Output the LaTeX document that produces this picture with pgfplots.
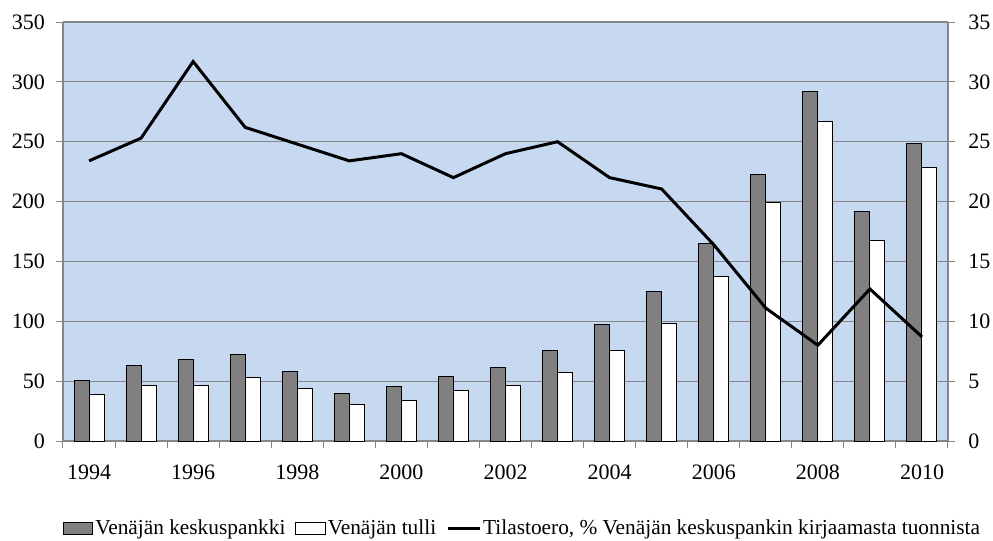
\documentclass[border=0pt]{standalone}
\usepackage{pgfplots}
\pgfplotsset{compat=1.18}
\usepackage{fontspec}
\setmainfont{Liberation Serif}
\definecolor{plotbg}{RGB}{198,217,241}
\definecolor{bardark}{RGB}{128,128,128}
\definecolor{gridc}{RGB}{134,134,134}
\begin{document}
\begin{tikzpicture}
\pgfplotsset{
  every axis/.append style={font=\fontsize{16.5}{19}\selectfont},
  /pgf/number format/assume math mode=true,
}
\begin{axis}[
  at={(0,0)}, anchor=south west, scale only axis,
  width=663.75pt, height=314.25pt,
  xmin=1993.5, xmax=2010.5, ymin=0, ymax=350,
  ytick={0,50,...,350},
  xtick={1993.5,1994.5,...,2010.5}, xticklabels={},
  extra x ticks={1994,1996,...,2010},
  extra x tick labels={1994,1996,1998,2000,2002,2004,2006,2008,2010},
  extra x tick style={major tick length=0pt, grid=none},
  xtick pos=left,
  major tick length=5pt, tick align=outside,
  tick style={gridc, line width=0.75pt},
  axis y line*=left,
  axis background/.style={fill=plotbg},
  ymajorgrids, grid style={gridc, line width=0.9pt},
  axis line style={gridc, line width=0.9pt},
  ybar=0pt, bar width=11.25pt,
  yticklabel style={xshift=-5pt},
  xticklabel style={yshift=-14.5pt},
]
\addplot[fill=bardark, draw=black, line width=0.75pt] coordinates {
(1994,50.5) (1995,63) (1996,68) (1997,72) (1998,58) (1999,39.5) (2000,45.4)
(2001,54) (2002,61) (2003,75.8) (2004,97.5) (2005,125) (2006,165)
(2007,222.8) (2008,291.8) (2009,191.5) (2010,248.7)};
\addplot[fill=white, draw=black, line width=0.75pt] coordinates {
(1994,38.5) (1995,46) (1996,46) (1997,53) (1998,43.5) (1999,30.6) (2000,33.7)
(2001,42.6) (2002,46.5) (2003,57) (2004,75.8) (2005,98.3) (2006,137.6)
(2007,199.4) (2008,267.1) (2009,167.1) (2010,228.7)};
\end{axis}
\begin{axis}[
  at={(0,0)}, anchor=south west, scale only axis,
  width=663.75pt, height=314.25pt,
  xmin=1993.5, xmax=2010.5, ymin=0, ymax=35,
  ytick={0,5,...,35},
  axis y line*=right, axis x line=none,
  axis line style={gridc, line width=0.9pt},
  major tick length=5pt, tick align=outside,
  tick style={gridc, line width=0.75pt},
  yticklabel style={xshift=6.75pt},
  legend columns=-1,
  legend style={at={(0.5,0)}, anchor=center, yshift=-65.5pt, xshift=12.75pt,
    draw=none, fill=none, font=\fontsize{16}{19}\selectfont,
    /tikz/every even column/.append style={column sep=6pt},
    nodes={inner xsep=1.5pt}},
  legend cell align=left,
]
\addlegendimage{legend image code/.code={\draw[fill=bardark, draw=black, line width=0.75pt] (0pt,-4.5pt) rectangle (22pt,4.5pt);}}
\addlegendentry{Venäjän keskuspankki}
\addlegendimage{legend image code/.code={\draw[fill=white, draw=black, line width=0.75pt] (0pt,-4.5pt) rectangle (22pt,4.5pt);}}
\addlegendentry{Venäjän tulli}
\addplot[black, line width=2.25pt, mark=none,
  legend image code/.code={\draw[black, line width=2.25pt] (0pt,0pt) -- (24pt,0pt);}] coordinates {
(1994,23.4) (1995,25.3) (1996,31.7) (1997,26.2) (1998,24.8) (1999,23.4)
(2000,24.0) (2001,22.0) (2002,24.0) (2003,25.0) (2004,22.0) (2005,21.05)
(2006,16.4) (2007,11.1) (2008,8.0) (2009,12.7) (2010,8.7)};
\addlegendentry{Tilastoero, \% Venäjän keskuspankin kirjaamasta tuonnista}
\end{axis}
\pgfresetboundingbox
\path[use as bounding box] (-47.25pt,-74.25pt) rectangle (697.5pt,330.75pt);
\end{tikzpicture}
\end{document}
